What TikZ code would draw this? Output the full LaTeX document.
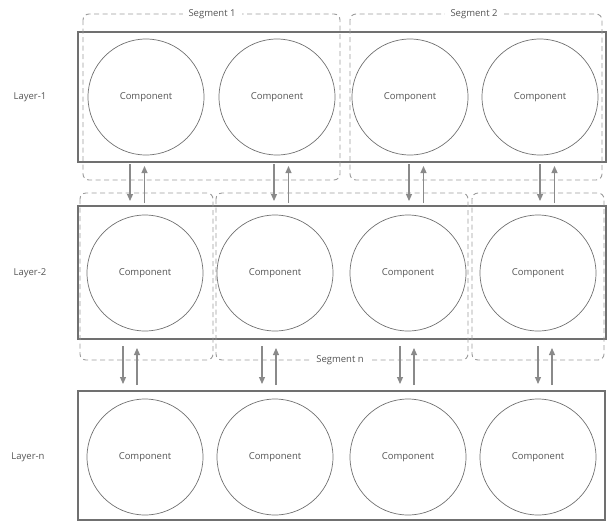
\documentclass[tikz,border=0pt]{standalone}
\usepackage{fontspec}
\setmainfont{Open Sans}
\usetikzlibrary{arrows.meta}
\definecolor{ln}{HTML}{707070}
\definecolor{ar}{HTML}{8A8A8A}
\definecolor{tx}{HTML}{555555}
\begin{document}
\begin{tikzpicture}[x=1pt,y=-1pt,
  layer/.style={draw=ln,line width=1.6pt},
  seg/.style={draw=ln!70,dashed,dash pattern=on 5pt off 3.5pt,line width=0.9pt,rounded corners=6pt},
  comp/.style={circle,draw=ln,line width=0.7pt,minimum size=116pt,inner sep=0pt,font=\fontsize{9.5}{11}\selectfont,text=tx},
  lbl/.style={font=\fontsize{9.5}{11}\selectfont,text=tx},
  seglbl/.style={font=\fontsize{9.5}{11}\selectfont,text=tx,fill=white,inner xsep=6pt},
  arr/.style={draw=ar,line width=1.1pt,-{Triangle[length=7pt,width=6pt]}}]
\useasboundingbox (0,0) rectangle (607,523);
% layers
\draw[layer] (78,32) rectangle (606,162);
\draw[layer] (78,206) rectangle (606,339);
\draw[layer] (78,391) rectangle (605,520);
% segments
\draw[seg] (83,14) rectangle (340,180);
\draw[seg] (350,14) rectangle (602,180);
\draw[seg] (80,193) rectangle (213,360);
\draw[seg] (216,193) rectangle (468,360);
\draw[seg] (472,193) rectangle (604,360);
\node[seglbl] (s1) at (212,14) {Segment 1};
\node[seglbl] (s2) at (474,14) {Segment 2};
\node[seglbl] (sn) at (340,360) {Segment n};
% labels
\node[lbl] (l1) at (30,97) {Layer-1};
\node[lbl] (l2) at (30,273) {Layer-2};
\node[lbl] (ln) at (28,457) {Layer-n};
% components
\foreach \i/\x in {1/146,2/277,3/410,4/540}{\node[comp] (a\i) at (\x,97) {Component};}
\foreach \i/\x in {1/145,2/275,3/408,4/538}{\node[comp] (b\i) at (\x,273) {Component};}
\foreach \i/\x in {1/145,2/275,3/408,4/538}{\node[comp] (c\i) at (\x,457) {Component};}
% arrows
\foreach \x in {130,274,409,540}{
  \coordinate (d1) at (\x,164); \coordinate (d2) at (\x,201);
  \draw[arr] (d1) -- (d2);
  \coordinate (u1) at (\x+14.5,203); \coordinate (u2) at (\x+14.5,166);
  \draw[arr] (u1) -- (u2);}
\foreach \x in {123,262,400,538}{
  \coordinate (d1) at (\x,346); \coordinate (d2) at (\x,384);
  \draw[arr] (d1) -- (d2);
  \coordinate (u1) at (\x+14,385); \coordinate (u2) at (\x+14,348);
  \draw[arr] (u1) -- (u2);}
\end{tikzpicture}
\end{document}
